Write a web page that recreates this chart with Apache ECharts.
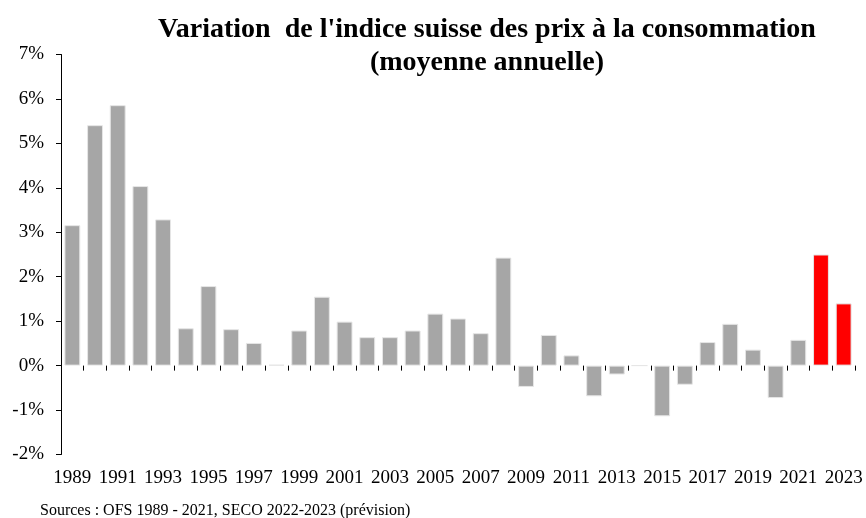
<html>
<head>
    <title></title>
    <meta charset="utf-8">
    <script src="https://cdn.jsdelivr.net/npm/echarts@6/dist/echarts.min.js" type="text/javascript"></script>
</head>
<body style="margin:0">
    <div id="main" style="width: 866px; height: 518px">
    </div>
    <script>
        // annees et variation moyenne de l'IPC (%)
        var years = ['1989', '1990', '1991', '1992', '1993', '1994', '1995', '1996', '1997', '1998',
            '1999', '2000', '2001', '2002', '2003', '2004', '2005', '2006', '2007', '2008',
            '2009', '2010', '2011', '2012', '2013', '2014', '2015', '2016', '2017', '2018',
            '2019', '2020', '2021', '2022', '2023'];
        var cpi = [3.16, 5.41, 5.86, 4.04, 3.29, 0.84, 1.79, 0.82, 0.51, 0.02,
            0.79, 1.55, 0.99, 0.64, 0.64, 0.79, 1.17, 1.06, 0.73, 2.43,
            -0.48, 0.69, 0.23, -0.69, -0.20, 0, -1.14, -0.43, 0.53, 0.94,
            0.36, -0.73, 0.58, 2.5, 1.4];
        var forecastYears = ['2022', '2023'];
        var yTicks = [-2, -1, 0, 1, 2, 3, 4, 5, 6, 7];

        var font = '"Liberation Serif", "Times New Roman", serif';

        window.onload = function () {
            var myChart = echarts.init(document.getElementById('main'));
            var option = {
                animation: false,
                title: {
                    text: "Variation  de l'indice suisse des prix à la consommation\n(moyenne annuelle)",
                    left: 482,
                    top: 8,
                    textAlign: 'center',
                    textStyle: {
                        fontFamily: font,
                        fontWeight: 'bold',
                        fontSize: 28,
                        lineHeight: 33,
                        color: '#000'
                    }
                },
                graphic: [{
                    type: 'text',
                    left: 40,
                    top: 503,
                    style: {
                        text: 'Sources : OFS 1989 - 2021, SECO 2022-2023 (prévision)',
                        font: '16px ' + font,
                        fill: '#000'
                    }
                }],
                grid: {
                    left: 61,
                    right: 11,
                    top: 54.5,
                    bottom: 63.5
                },
                xAxis: [{
                    type: 'category',
                    data: years,
                    axisLine: { show: true, onZero: true, lineStyle: { color: 'rgba(0,0,0,0)' } },
                    axisTick: { show: true, interval: 0, length: 5, lineStyle: { color: '#000', width: 1 } },
                    axisLabel: { show: false }
                }, {
                    type: 'category',
                    data: years,
                    position: 'bottom',
                    axisLine: { show: false, onZero: false },
                    axisTick: { show: false },
                    axisLabel: {
                        interval: 1,
                        margin: 14,
                        fontFamily: font,
                        fontSize: 19,
                        color: '#000'
                    }
                }],
                yAxis: {
                    type: 'value',
                    min: yTicks[0],
                    max: yTicks[yTicks.length - 1],
                    interval: 1,
                    splitLine: { show: false },
                    axisLine: { show: true, lineStyle: { color: '#000', width: 1 } },
                    axisTick: { show: true, length: 5, lineStyle: { color: '#000' } },
                    axisLabel: {
                        formatter: '{value}%',
                        margin: 17,
                        fontFamily: font,
                        fontSize: 19,
                        color: '#000'
                    }
                },
                series: [{
                    type: 'bar',
                    xAxisIndex: 0,
                    data: cpi,
                    barCategoryGap: '30%',
                    itemStyle: {
                        color: function (p) {
                            return forecastYears.indexOf(p.name) >= 0 ? '#ff0000' : '#a6a6a6';
                        },
                        borderColor: '#e6e6e6',
                        borderWidth: 1
                    }
                }]
            };
            myChart.setOption(option);
        }
    </script>
</body>
</html>
